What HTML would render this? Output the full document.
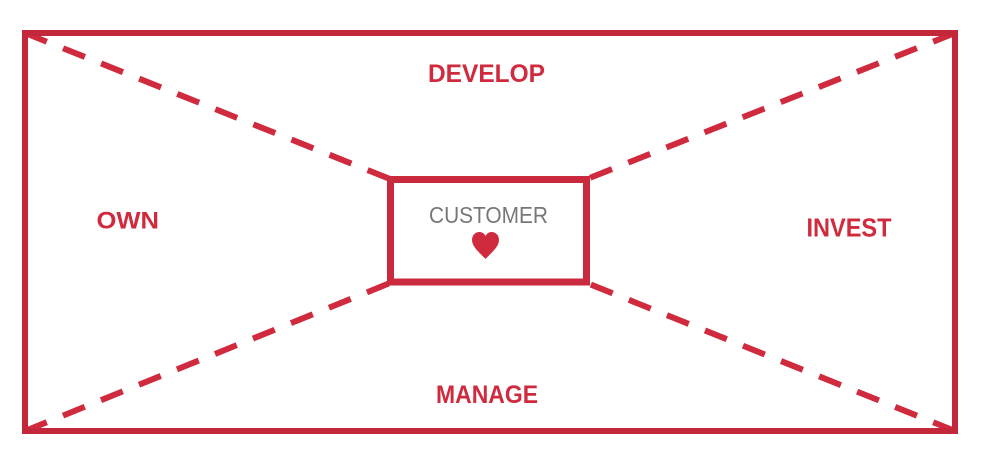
<!DOCTYPE html>
<html>
<head>
<meta charset="utf-8">
<style>
  html,body{margin:0;padding:0;background:#fff;}
  svg{display:block;}
</style>
</head>
<body>
<svg width="982" height="464" viewBox="0 0 982 464" xmlns="http://www.w3.org/2000/svg">
  <g fill="none" stroke="#d02a3e" stroke-width="6" stroke-dasharray="23.5 17.5">
    <line x1="25" y1="33" x2="390" y2="179"/>
    <line x1="955" y1="33" x2="587" y2="179"/>
    <line x1="25" y1="431" x2="390" y2="283"/>
    <line x1="955" y1="431" x2="587" y2="283"/>
  </g>
  <rect x="25" y="33" width="930" height="398" fill="none" stroke="#c4273a" stroke-width="6"/>
  <rect x="390.5" y="179.5" width="196" height="102.5" fill="#fff" stroke="#c92a3d" stroke-width="7"/>
  <g font-family="'Liberation Sans', sans-serif" fill="#d02a3e" font-weight="bold">
    <text x="428" y="82" font-size="25" textLength="117" lengthAdjust="spacingAndGlyphs">DEVELOP</text>
    <text x="436" y="403" font-size="25" textLength="102" lengthAdjust="spacingAndGlyphs">MANAGE</text>
    <text x="96.5" y="228.5" font-size="24.5" textLength="62.5" lengthAdjust="spacingAndGlyphs">OWN</text>
    <text x="806.5" y="236.5" font-size="25.5" textLength="85" lengthAdjust="spacingAndGlyphs">INVEST</text>
  </g>
  <text x="429" y="223" font-family="'Liberation Sans', sans-serif" font-size="23" fill="#777" textLength="119" lengthAdjust="spacingAndGlyphs">CUSTOMER</text>
  <path d="M485.5 259 C480 253 472 247 472 240 C472 235 475.5 232 479.5 232 C482.5 232 484.5 234 485.5 236 C486.5 234 488.5 232 491.5 232 C495.5 232 499 235 499 240 C499 247 491 253 485.5 259 Z" fill="#d02a3e"/>
</svg>
</body>
</html>
